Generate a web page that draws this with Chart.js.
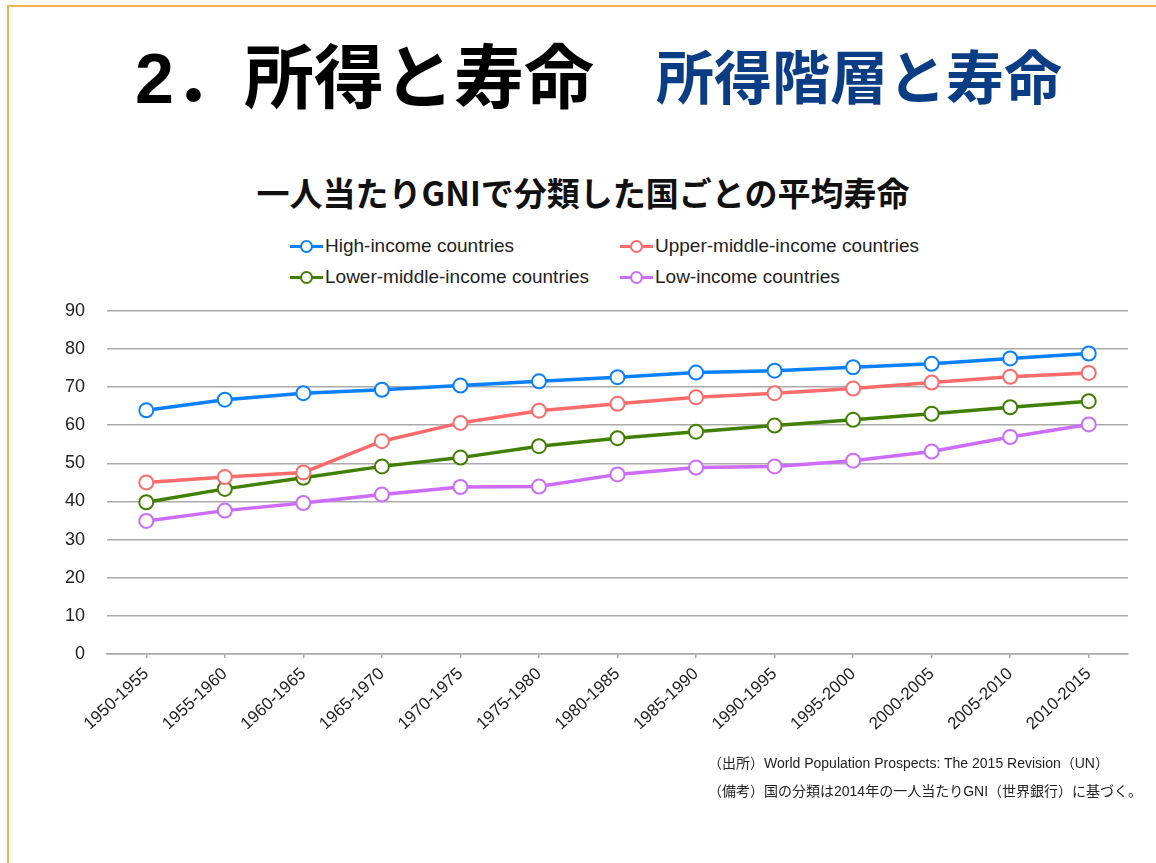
<!DOCTYPE html>
<html lang="ja">
<head>
<meta charset="utf-8">
<title>所得と寿命</title>
<script src="https://cdn.jsdelivr.net/npm/chart.js@4.4.1/dist/chart.umd.min.js"></script>
<style>
    html, body {
        margin: 0;
        padding: 0;
        width: 1156px;
        height: 863px;
        overflow: hidden;
        background: #fff;
        font-family: "Liberation Sans", Arial, "Noto Sans CJK JP", sans-serif;
    }
    .frame {
        position: absolute;
        left: 7px;
        top: 5px;
        width: 1300px;
        height: 1000px;
        border: 2px solid #f7b24f;
        box-sizing: border-box;
    }
    .title {
        position: absolute;
        left: 135px;
        top: 22px;
        white-space: nowrap;
        font-weight: bold;
        font-family: "Liberation Sans", "Noto Sans CJK JP", sans-serif;
    }
    .title .main {
        font-size: 70px;
        color: #000;
    }
    .title .sub {
        font-size: 58px;
        color: #0b3d84;
        margin-left: 62px;
        position: relative;
        top: -4px;
    }
    .subtitle {
        position: absolute;
        left: 0;
        width: 1166px;
        top: 168px;
        text-align: center;
        font-size: 33px;
        font-weight: bold;
        font-family: "Noto Sans CJK JP", sans-serif;
        color: #111;
    }
    .legend {
        position: absolute;
        left: 290px;
        top: 234px;
        display: grid;
        grid-template-columns: 330px 330px;
        row-gap: 7px;
        font-size: 19px;
        color: #222;
    }
    .legend-item {
        display: flex;
        align-items: center;
        height: 24px;
    }
    .legend-mark {
        position: relative;
        width: 33px;
        height: 16px;
        margin-right: 2px;
    }
    .legend-mark .ln {
        position: absolute;
        left: 0;
        right: 0;
        top: 6.5px;
        height: 3px;
    }
    .legend-mark .pt {
        position: absolute;
        left: 10px;
        top: 2px;
        width: 9px;
        height: 9px;
        border-radius: 50%;
        border: 2px solid;
        background: #fff;
    }
    .chart-box {
        position: absolute;
        left: 40px;
        top: 278px;
        width: 1110px;
        height: 476px;
    }
    .note {
        position: absolute;
        left: 708px;
        font-size: 14px;
        color: #222;
        white-space: nowrap;
    }
</style>
</head>
<body>
<div class="frame"></div>
<div class="title"><span class="main">2．所得と寿命</span><span class="sub">所得階層と寿命</span></div>
<div class="subtitle">一人当たりGNIで分類した国ごとの平均寿命</div>
<div class="legend" id="legend"></div>
<div class="chart-box"><canvas id="life-chart"></canvas></div>
<div class="note" style="top: 752px;">（出所）World Population Prospects: The 2015 Revision（UN）</div>
<div class="note" style="top: 780px;">（備考）国の分類は2014年の一人当たりGNI（世界銀行）に基づく。</div>

<script>
// Periods (x axis)
const periods = [
    '1950-1955', '1955-1960', '1960-1965', '1965-1970', '1970-1975',
    '1975-1980', '1980-1985', '1985-1990', '1990-1995', '1995-2000',
    '2000-2005', '2005-2010', '2010-2015'
];

// Life expectancy by income group
const highIncome = [63.9, 66.7, 68.4, 69.3, 70.4, 71.5, 72.6, 73.8, 74.3, 75.2, 76.1, 77.5, 78.8];
const upperMiddleIncome = [45.0, 46.4, 47.6, 55.8, 60.6, 63.8, 65.6, 67.3, 68.4, 69.6, 71.2, 72.7, 73.7];
const lowerMiddleIncome = [39.8, 43.3, 46.2, 49.2, 51.5, 54.5, 56.6, 58.3, 59.9, 61.4, 63.0, 64.7, 66.3];
const lowIncome = [34.9, 37.6, 39.6, 41.8, 43.8, 43.9, 47.1, 48.9, 49.2, 50.7, 53.1, 56.9, 60.2];

// Y axis ticks
const yMin = 0;
const yMax = 90;
const yStep = 10;

// Series definitions (legend order: row by row)
const series = [
    { label: 'High-income countries', data: highIncome, color: '#0a80ff' },
    { label: 'Upper-middle-income countries', data: upperMiddleIncome, color: '#ff6a6a' },
    { label: 'Lower-middle-income countries', data: lowerMiddleIncome, color: '#408000' },
    { label: 'Low-income countries', data: lowIncome, color: '#cc6bfc' }
];

// Build legend
const legend = document.getElementById('legend');
series.forEach(s => {
    const item = document.createElement('div');
    item.className = 'legend-item';
    item.innerHTML = `<span class="legend-mark"><span class="ln" style="background:${s.color}"></span>` +
        `<span class="pt" style="border-color:${s.color}"></span></span><span>${s.label}</span>`;
    legend.appendChild(item);
});

const datasets = series.map((s, i) => ({
    label: s.label,
    data: s.data,
    borderColor: s.color,
    backgroundColor: '#fff',
    pointBackgroundColor: '#fff',
    pointBorderColor: s.color,
    pointBorderWidth: 2,
    pointRadius: 7,
    borderWidth: 3.5,
    tension: 0,
    order: i
}));

new Chart(document.getElementById('life-chart'), {
    type: 'line',
    data: {
        labels: periods,
        datasets: datasets
    },
    options: {
        responsive: true,
        maintainAspectRatio: false,
        animation: false,
        layout: {
            padding: { top: 14, right: 22, bottom: 0, left: 0 }
        },
        plugins: {
            legend: { display: false },
            tooltip: { enabled: false }
        },
        scales: {
            x: {
                offset: true,
                grid: {
                    drawOnChartArea: false,
                    drawTicks: true,
                    tickLength: 4,
                    color: '#aaa',
                    lineWidth: 1.5
                },
                border: { color: '#aaa', width: 1.5 },
                ticks: {
                    minRotation: 43,
                    maxRotation: 43,
                    autoSkip: false,
                    padding: 6,
                    color: '#222',
                    font: { family: '"Liberation Sans", Arial, sans-serif', size: 17 }
                },
                afterFit: scale => { scale.height = 100; }
            },
            y: {
                min: yMin,
                max: yMax,
                ticks: {
                    stepSize: yStep,
                    padding: 22,
                    color: '#222',
                    font: { family: '"Liberation Sans", Arial, sans-serif', size: 18 }
                },
                grid: {
                    drawTicks: false,
                    color: '#aaa',
                    lineWidth: 1.5
                },
                border: { display: false },
                afterFit: scale => { scale.width = 67; }
            }
        }
    }
});
</script>
</body>
</html>
